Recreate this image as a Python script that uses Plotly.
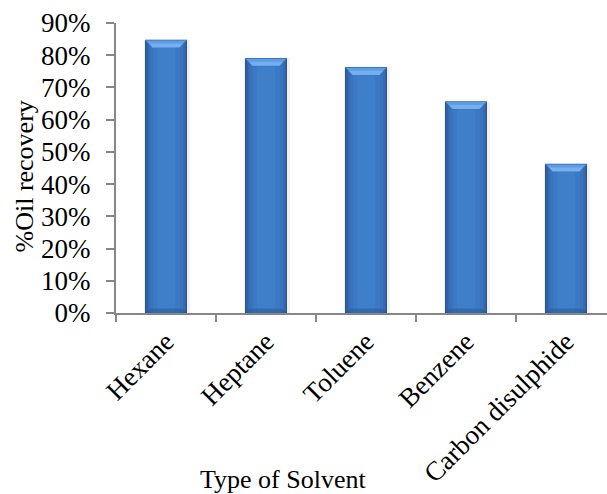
import plotly.graph_objects as go

# Oil recovery by extraction solvent
solvents = ["Hexane", "Heptane", "Toluene", "Benzene", "Carbon disulphide"]
recovery = [0.847, 0.790, 0.762, 0.656, 0.462]
y_ticks = [0.0, 0.1, 0.2, 0.3, 0.4, 0.5, 0.6, 0.7, 0.8, 0.9]

FONT = "Liberation Serif"
AXIS_GREY = "#878787"

xs = list(range(len(solvents)))
fig = go.Figure()

# soft drop shadow behind each bar
fig.add_trace(go.Bar(x=[x + 0.01 for x in xs], y=recovery, width=0.455,
                     marker=dict(color="rgba(0,0,0,0.06)", line_width=0),
                     hoverinfo="skip"))

# layered bars give a rounded, shaded column (dark edges, bright centre)
layers = [
    (0.42, "#2a5692"),
    (0.40, "#3061a3"),
    (0.37, "#356bb2"),
    (0.33, "#3973be"),
    (0.27, "#3c79c5"),
    (0.18, "#3f7ec9"),
]
for w, c in layers:
    fig.add_trace(go.Bar(x=xs, y=recovery, width=w,
                         marker=dict(color=c, line_width=0),
                         hoverinfo="skip"))

# bevelled top and bottom faces of each column
BW = 0.42
bev_h = 0.023
bev_in = 0.075
for x, v in zip(xs, recovery):
    l, r = x - BW / 2, x + BW / 2
    fig.add_trace(go.Scatter(
        x=[l, r, r - bev_in, l + bev_in, l],
        y=[v, v, v - bev_h, v - bev_h, v],
        mode="lines", fill="toself", fillcolor="#5e9ce4",
        line=dict(width=0.8, color="#3d71b3"), hoverinfo="skip"))
    fig.add_trace(go.Scatter(
        x=[l + 0.04, r - 0.04, r - bev_in, l + bev_in, l + 0.04],
        y=[v - bev_h * 0.45, v - bev_h * 0.45, v - bev_h, v - bev_h, v - bev_h * 0.45],
        mode="lines", fill="toself", fillcolor="#74b0f0",
        line=dict(width=0), hoverinfo="skip"))
    fig.add_trace(go.Scatter(
        x=[l, r, r - bev_in * 0.6, l + bev_in * 0.6, l],
        y=[0, 0, bev_h * 0.6, bev_h * 0.6, 0],
        mode="lines", fill="toself", fillcolor="rgba(40,85,145,0.45)",
        line=dict(width=0), hoverinfo="skip"))

fig.update_layout(
    width=607, height=494,
    margin=dict(l=116, r=0, t=23, b=181),
    paper_bgcolor="white", plot_bgcolor="white",
    barmode="overlay", bargap=0, showlegend=False, hovermode=False,
    font=dict(family=FONT, size=26, color="black"),
    xaxis=dict(
        range=[-0.5, 4.41], tickmode="array", tickvals=xs, ticktext=solvents,
        tickangle=-45, ticks="", showline=True, linecolor=AXIS_GREY, linewidth=2,
        showgrid=False, zeroline=False,
        tickfont=dict(family=FONT, size=27, color="black"),
        minor=dict(tickmode="array", tickvals=[-0.5, 0.5, 1.5, 2.5, 3.5],
                   ticks="outside", ticklen=7, tickwidth=2, tickcolor=AXIS_GREY,
                   showgrid=False),
    ),
    yaxis=dict(
        range=[0, 0.9], tickmode="array", tickvals=y_ticks, tickformat=".0%",
        ticks="outside", ticklen=8, tickwidth=2, tickcolor=AXIS_GREY,
        showline=True, linecolor=AXIS_GREY, linewidth=2,
        showgrid=False, zeroline=False, ticklabelstandoff=10,
        tickfont=dict(family=FONT, size=27, color="black"),
    ),
    annotations=[
        dict(text="Type of Solvent", xref="paper", yref="paper",
             x=(283 - 116) / 491, y=-(480 - 313.5) / 290,
             xanchor="center", yanchor="middle", showarrow=False,
             font=dict(family=FONT, size=26, color="black")),
        dict(text="%Oil recovery", xref="paper", yref="paper",
             x=-(116 - 24) / 491, y=(313.5 - 177) / 290,
             xanchor="center", yanchor="middle", textangle=-90, showarrow=False,
             font=dict(family=FONT, size=26, color="black")),
    ],
)

fig.write_html("out.html")
